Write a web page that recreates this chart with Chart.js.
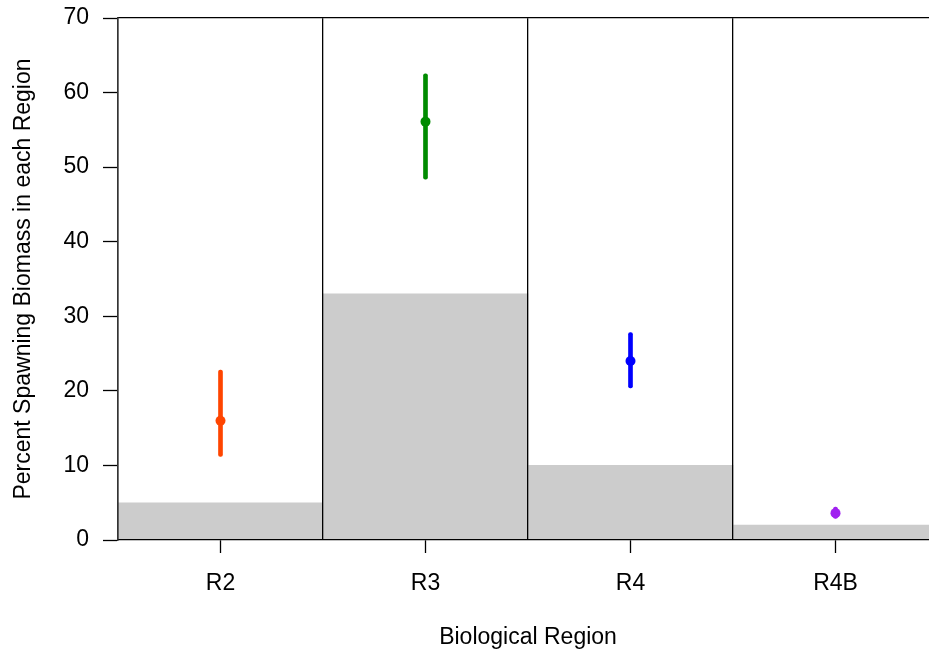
<!DOCTYPE html>
<html>
<head>
<meta charset="utf-8">
<script src="https://cdn.jsdelivr.net/npm/chart.js@4.4.1/dist/chart.umd.min.js"></script>
<style>
  html, body { margin: 0; padding: 0; background: #fff; overflow: hidden; }
  #wrap { width: 943px; height: 649px; position: relative; }
</style>
</head>
<body>
<div id="wrap"><canvas id="chart"></canvas></div>
<script>
// ── Data ─────────────────────────────────────────────────────
const regions     = ["R2", "R3", "R4", "R4B"];
const baseline    = [5, 33, 10, 2];            // gray bars
const estimate    = [16, 56.1, 24, 3.6];       // points
const lower       = [11.2, 48.4, 20.4, 2.9];   // interval low
const upper       = [22.8, 62.5, 27.8, 4.4];   // interval high
const pointColors = ["#FF4500", "#008B00", "#0000FF", "#A020F0"];
const yTicks      = [0, 10, 20, 30, 40, 50, 60, 70];

const FONT = "'Liberation Sans', Arial, sans-serif";
const SIZE = 23;

const intervals = lower.map((lo, i) => [lo, upper[i]]);

new Chart(document.getElementById("chart"), {
  data: {
    labels: regions,
    datasets: [
      {
        type: "bar",
        data: baseline,
        backgroundColor: "#CCCCCC",
        borderWidth: 0,
        barPercentage: 1,
        categoryPercentage: 1,
        grouped: false,
        order: 3,
      },
      {
        type: "bar",
        data: intervals,
        backgroundColor: pointColors,
        borderWidth: 0,
        barThickness: 4,
        borderRadius: 2,
        borderSkipped: false,
        grouped: false,
        order: 2,
      },
      {
        type: "line",
        data: estimate,
        showLine: false,
        pointRadius: 5,
        pointBorderWidth: 0,
        pointBackgroundColor: pointColors,
        order: 1,
      },
    ],
  },
  options: {
    responsive: true,
    maintainAspectRatio: false,
    animation: false,
    layout: { padding: 0 },
    plugins: { legend: { display: false }, tooltip: { enabled: false } },
    scales: {
      x: {
        type: "category",
        offset: true,
        grid: { offset: false, drawOnChartArea: false, tickLength: 13, color: "#000", tickWidth: 1.3 },
        border: { display: true, color: "#000", width: 1.3, z: 1 },
        ticks: { color: "#000", font: { family: FONT, size: SIZE }, padding: 17 },
        title: {
          display: true, text: "Biological Region", color: "#000",
          font: { family: FONT, size: SIZE }, padding: { top: 0, bottom: -2 },
        },
        afterFit: s => { s.height = 109; },
      },
      xTop: {
        type: "category",
        position: "top",
        offset: true,
        grid: { offset: true, drawTicks: false, color: "#000", lineWidth: 1.3, z: 1 },
        border: { display: true, color: "#000", width: 1.3, z: 1 },
        ticks: { display: false },
        afterFit: s => { s.height = 18; },
      },
      y: {
        min: 0,
        max: 70,
        afterBuildTicks: s => { s.ticks = yTicks.map(v => ({ value: v })); },
        grid: { drawOnChartArea: false, tickLength: 15, color: "#000", tickWidth: 1.3 },
        border: { display: true, color: "#333", width: 1.5, z: 1 },
        ticks: { color: "#000", font: { family: FONT, size: SIZE }, padding: 14 },
        title: {
          display: true, text: "Percent Spawning Biomass in each Region", color: "#000",
          font: { family: FONT, size: SIZE }, padding: { top: 10, bottom: 0 },
        },
        afterFit: s => { s.width = 118; s.paddingTop = 0; s.paddingBottom = 0; },
      },
    },
  },
});
</script>
</body>
</html>
